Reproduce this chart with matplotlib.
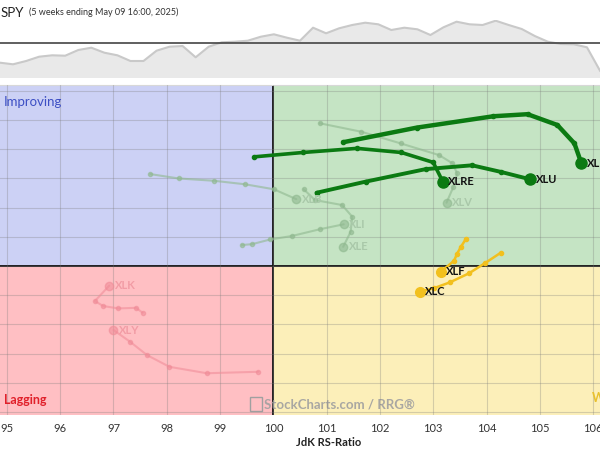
import matplotlib.pyplot as plt
import numpy as np

# 字体
plt.rcParams['font.family'] = ['Lato', 'DejaVu Sans']

# --- 数据 ---
# 顶部 SPY 小图（相对值，100 = 基准线）
spy_values = [98.0, 97.84, 98.17, 98.6, 98.74, 98.7, 99.27, 99.5, 99.0, 98.74,
              98.17, 98.17, 99.2, 99.6, 99.67, 98.54, 99.6, 100.04, 100.1, 100.2,
              100.6, 100.84, 100.5, 100.2, 101.5, 100.94, 101.44, 101.77, 102.0,
              101.84, 101.27, 101.5, 101.34, 100.77, 101.54, 102.1, 101.84, 101.77,
              102.2, 101.77, 101.37, 100.67, 100.1, 99.87, 99.84, 99.54, 97.2]

rs_ticks = [95, 96, 97, 98, 99, 100, 101, 102, 103, 104, 105, 106]

# RRG 尾迹：JdK RS-Ratio / RS-Momentum，最后一个点为当前位置
xlp_ratio = [101.31, 102.69, 104.13, 104.77, 105.33, 105.65, 105.78]
xlp_mom = [104.24, 104.74, 105.13, 105.2, 104.83, 104.2, 103.52]

xlre_ratio = [99.64, 100.56, 101.57, 102.40, 103.0, 103.18]
xlre_mom = [103.74, 103.89, 104.03, 103.89, 103.55, 102.89]

xlu_ratio = [100.81, 101.73, 102.86, 103.73, 104.28, 104.82]
xlu_mom = [102.51, 102.89, 103.32, 103.45, 103.22, 102.97]

xlv_ratio = [100.87, 101.65, 102.39, 103.11, 103.36, 103.45, 103.38, 103.25]
xlv_mom = [104.89, 104.6, 104.2, 103.8, 103.52, 103.17, 102.72, 102.17]

xlb_ratio = [97.69, 98.22, 98.89, 99.47, 100.01, 100.43]
xlb_mom = [103.15, 103.0, 102.92, 102.8, 102.63, 102.29]

xle_ratio = [100.57, 100.78, 101.29, 101.48, 101.45, 101.31]
xle_mom = [102.63, 102.26, 102.09, 101.69, 101.17, 100.66]

xli_ratio = [99.41, 99.6, 99.94, 100.35, 100.87, 101.32]
xli_mom = [100.72, 100.75, 100.91, 101.03, 101.26, 101.43]

xlf_ratio = [103.61, 103.52, 103.45, 103.39, 103.14]
xlf_mom = [100.92, 100.66, 100.43, 100.18, 99.8]

xlc_ratio = [104.27, 103.98, 103.67, 103.31, 103.01, 102.75]
xlc_mom = [100.46, 100.11, 99.75, 99.44, 99.24, 99.12]

xlk_ratio = [97.55, 97.42, 97.09, 96.81, 96.65, 96.92]
xlk_mom = [98.4, 98.57, 98.55, 98.63, 98.8, 99.33]

xly_ratio = [99.72, 98.75, 98.05, 97.63, 97.31, 97.0]
xly_mom = [96.38, 96.33, 96.55, 96.95, 97.41, 97.81]

# 配色
GREEN = "#0b7a12"
YELLOW = "#f2c01e"
FADED_GREEN = "#8fb88f"
FADED_RED = "#f08a96"


def draw_tail(ax, name, xs, ys, color, lw, head_size, label_color, alpha=1.0):
    ax.plot(xs, ys, color=color, lw=lw, alpha=alpha, solid_capstyle='round', zorder=3)
    ax.plot(xs[:-1], ys[:-1], 'o', color=color, ms=3, alpha=alpha, zorder=3)
    ax.plot(xs[-1], ys[-1], 'o', color=color, ms=head_size, alpha=alpha, zorder=4)
    ax.annotate(name, (xs[-1], ys[-1]), xytext=(4, 0), textcoords='offset points',
                va='center', ha='left', fontsize=8, fontweight='bold',
                color=label_color, zorder=5)


def plot_rrg():
    fig = plt.figure(figsize=(6, 4.5), dpi=100)

    # 顶部 SPY 面积图
    ax_top = fig.add_axes([0, 1 - 78 / 450, 1, 58 / 450])
    x = np.arange(len(spy_values))
    ax_top.fill_between(x, 96.47, spy_values, color='#e9e9e9', lw=0)
    ax_top.plot(x, spy_values, color='#c9c9c9', lw=1.5)
    ax_top.axhline(100, color='#444444', lw=1.2)
    ax_top.set_xlim(0, len(spy_values) - 1)
    ax_top.set_ylim(96.47, 102.27)
    ax_top.axis('off')

    fig.text(1 / 600, 1 - 13 / 450, 'SPY', fontsize=9.5, color='#222222', va='center')
    fig.text(29 / 600, 1 - 12 / 450, '(5 weeks ending May 09 16:00, 2025)',
             fontsize=6.5, color='#333333', va='center')

    # 主图 RRG
    ax = fig.add_axes([0, 1 - 415 / 450, 1, 330 / 450])
    x0, x1 = 94.87, 106.13
    y0, y1 = 94.9, 106.2
    ax.set_xlim(x0, x1)
    ax.set_ylim(y0, y1)

    # 四个象限背景
    ax.add_patch(plt.Rectangle((x0, 100), 100 - x0, y1 - 100, color='#ccd1f5', zorder=0))
    ax.add_patch(plt.Rectangle((100, 100), x1 - 100, y1 - 100, color='#c5e4c4', zorder=0))
    ax.add_patch(plt.Rectangle((x0, y0), 100 - x0, 100 - y0, color='#ffbfc3', zorder=0))
    ax.add_patch(plt.Rectangle((100, y0), x1 - 100, 100 - y0, color='#fcefb9', zorder=0))

    ax.set_xticks(rs_ticks)
    ax.set_yticks(np.arange(95, 107))
    ax.grid(True, color='#7a7a7a', alpha=0.3, lw=0.8, zorder=1)
    ax.set_axisbelow(False)
    ax.axvline(100, color='#111111', lw=1.3, zorder=2)
    ax.axhline(100, color='#111111', lw=1.3, zorder=2)

    ax.tick_params(axis='x', length=0, pad=6, labelsize=8, labelcolor='#333333')
    ax.tick_params(axis='y', length=0, labelleft=False)
    ax.set_xlabel('JdK RS-Ratio', fontsize=8, fontweight='bold', color='#222222', va='center')
    ax.xaxis.set_label_coords(329 / 600, -28 / 330)
    for s in ['left', 'right', 'bottom']:
        ax.spines[s].set_visible(False)
    ax.spines['top'].set_color('#d8d8d8')

    # 象限名称
    ax.text(0.007, 0.948, 'Improving', transform=ax.transAxes, fontsize=9.5,
            color='#3d4fc4', va='center', ha='left')
    ax.text(0.007, 0.045, 'Lagging', transform=ax.transAxes, fontsize=9,
            color='#e0202a', va='center', ha='left', fontweight='bold')
    ax.text(0.987, 0.052, 'Weakening', transform=ax.transAxes, fontsize=9,
            color='#e8c02e', va='center', ha='left', fontweight='bold', clip_on=False)

    # 水印
    ax.add_patch(plt.Rectangle((0.417, 0.012), 0.02, 0.042, transform=ax.transAxes,
                               fill=False, ec='#a0a0a0', lw=1, zorder=2))
    ax.text(0.44, 0.032, 'StockCharts.com / RRG®', transform=ax.transAxes,
            fontsize=9.5, fontweight='bold', color='#a0a0a0', alpha=0.9,
            va='center', ha='left', zorder=2)

    # 淡化尾迹
    draw_tail(ax, 'XLV', xlv_ratio, xlv_mom, FADED_GREEN, 1.5, 6, '#a9c8a9', alpha=0.6)
    draw_tail(ax, 'XLB', xlb_ratio, xlb_mom, FADED_GREEN, 1.5, 6, '#a9c8a9', alpha=0.6)
    draw_tail(ax, 'XLE', xle_ratio, xle_mom, FADED_GREEN, 1.5, 6, '#a9c8a9', alpha=0.6)
    draw_tail(ax, 'XLI', xli_ratio, xli_mom, FADED_GREEN, 1.5, 6, '#a9c8a9', alpha=0.6)
    draw_tail(ax, 'XLK', xlk_ratio, xlk_mom, FADED_RED, 1.5, 6, '#f29ca5', alpha=0.55)
    draw_tail(ax, 'XLY', xly_ratio, xly_mom, FADED_RED, 1.5, 6, '#f29ca5', alpha=0.55)

    # 重点尾迹
    draw_tail(ax, 'XLF', xlf_ratio, xlf_mom, YELLOW, 1.8, 7, '#111111')
    draw_tail(ax, 'XLC', xlc_ratio, xlc_mom, YELLOW, 1.8, 7, '#111111')
    draw_tail(ax, 'XLP', xlp_ratio, xlp_mom, GREEN, 3.2, 8, '#111111')
    draw_tail(ax, 'XLRE', xlre_ratio, xlre_mom, GREEN, 2.6, 8, '#111111')
    draw_tail(ax, 'XLU', xlu_ratio, xlu_mom, GREEN, 2.8, 8, '#111111')

    fig.savefig('out.png', dpi=100)


if __name__ == "__main__":
    plot_rrg()
